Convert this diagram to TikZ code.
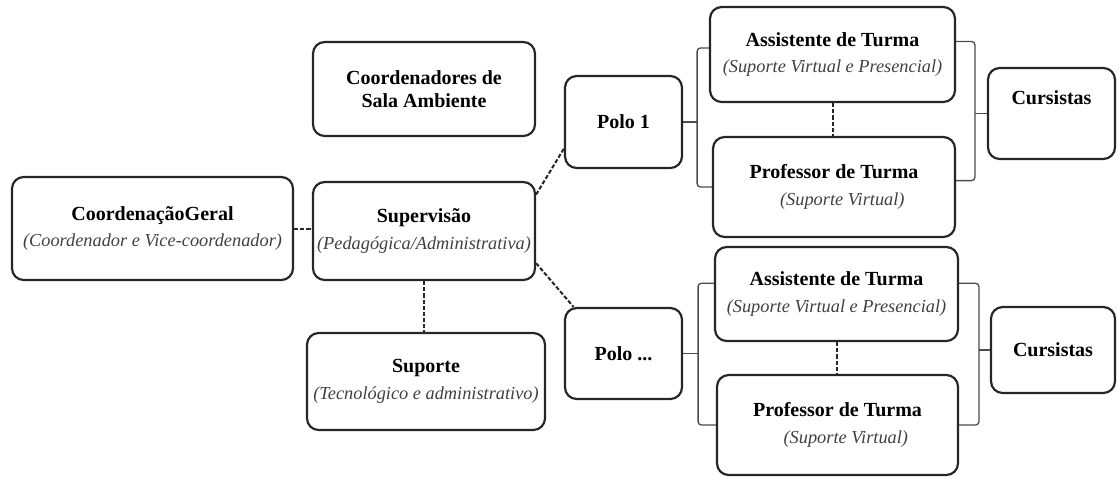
\documentclass[tikz,border=0pt]{standalone}
\usepackage{fontspec}
\setmainfont{Liberation Serif}
\newcommand{\subline}[1]{{\fontsize{11}{16}\selectfont\mdseries\itshape\color{black!75}#1}}

\begin{document}
\begin{tikzpicture}[x=0.6pt, y=-0.6pt,
    box/.style={shape=rectangle, draw=black!85, line width=1.3pt, rounded corners=7pt, align=center, inner sep=2pt, font=\fontsize{12}{16}\selectfont\bfseries},
    link/.style={draw=black!85, line width=1.2pt, dash pattern=on 2.5pt off 1.2pt},
    bracket/.style={draw=black!70, line width=0.8pt, rounded corners=2pt}]
  \useasboundingbox (0,0) rectangle (1118,476);

  % left part
  \node[box, minimum width=133.2pt, minimum height=56.4pt, font=\fontsize{12}{13.5}\selectfont\bfseries](sala)    at (424,89)    {Coordenadores de\\Sala Ambiente};
  \node[box, minimum width=168.6pt, minimum height=61.8pt](geral)   at (152.5,228.5) {Coordena\c{c}\~aoGeral\\\subline{(Coordenador e Vice-coordenador)}};
  \node[box, minimum width=133.2pt, minimum height=58.8pt](superv)  at (424,231)   {Supervis\~ao\\\subline{(Pedag\'ogica/Administrativa)}};
  \node[box, minimum width=142.8pt, minimum height=58.2pt](suporte) at (426,381.5) {Suporte\\\subline{(Tecnol\'ogico e administrativo)}};

  % polos
  \node[box, minimum width=70.2pt, minimum height=55.2pt](polo1) at (623.5,122)   {Polo 1};
  \node[box, minimum width=70.2pt, minimum height=54.6pt](poloN) at (623.5,353.5) {Polo ...};

  % turmas
  \node[box, minimum width=147pt,   minimum height=57pt  ](assist1) at (832.5,54.5) {Assistente de Turma\\\subline{(Suporte Virtual e Presencial)}};
  \node[box, minimum width=145.2pt, minimum height=60pt  ](prof1)   at (834,187)    {Professor de Turma\\\hspace*{10pt}\subline{(Suporte Virtual)}};
  \node[box, minimum width=145.8pt, minimum height=56.4pt](assist2) at (836.5,294)  {Assistente de Turma\\\subline{(Suporte Virtual e Presencial)}};
  \node[box, minimum width=144.6pt, minimum height=60pt  ](prof2)   at (837.5,425)  {Professor de Turma\\\hspace*{10pt}\subline{(Suporte Virtual)}};

  % cursistas
  \node[box, minimum width=76.2pt, minimum height=54.6pt](curs1) at (1051.5,113.5) {\raisebox{19pt}{Cursistas}};
  \node[box, minimum width=74.4pt, minimum height=51.6pt](curs2) at (1053,350)     {Cursistas};

  % dashed links
  \draw[link] (geral.east) -- (geral.east -| superv.west);
  \draw[link] (superv.18) -- (polo1.204);
  \draw[link] (superv.-16) -- (poloN.137);
  \draw[link, line width=0.7pt] (superv.south) -- (superv.south |- suporte.north);
  \draw[link] (assist1.south) -- (assist1.south |- prof1.north);
  \draw[link] (assist2.south) -- (assist2.south |- prof2.north);

  % brackets
  \draw[bracket] (polo1.east) -- ++(14,0) coordinate (b1);
  \draw[bracket] (assist1.177) -| (b1) |- (prof1.west);
  \draw[bracket] (curs1.west) -- ++(-12,0) coordinate (b2);
  \draw[bracket] (assist1.6) -| (b2) |- (prof1.3);
  \draw[bracket] (poloN.east) -- ++(15,0) coordinate (b3);
  \draw[bracket] (assist2.175) -| (b3) |- (prof2.west);
  \draw[bracket] (curs2.west) -- ++(-11,0) coordinate (b4);
  \draw[bracket] (assist2.5) -| (b4) |- (prof2.east);
\end{tikzpicture}
\end{document}
